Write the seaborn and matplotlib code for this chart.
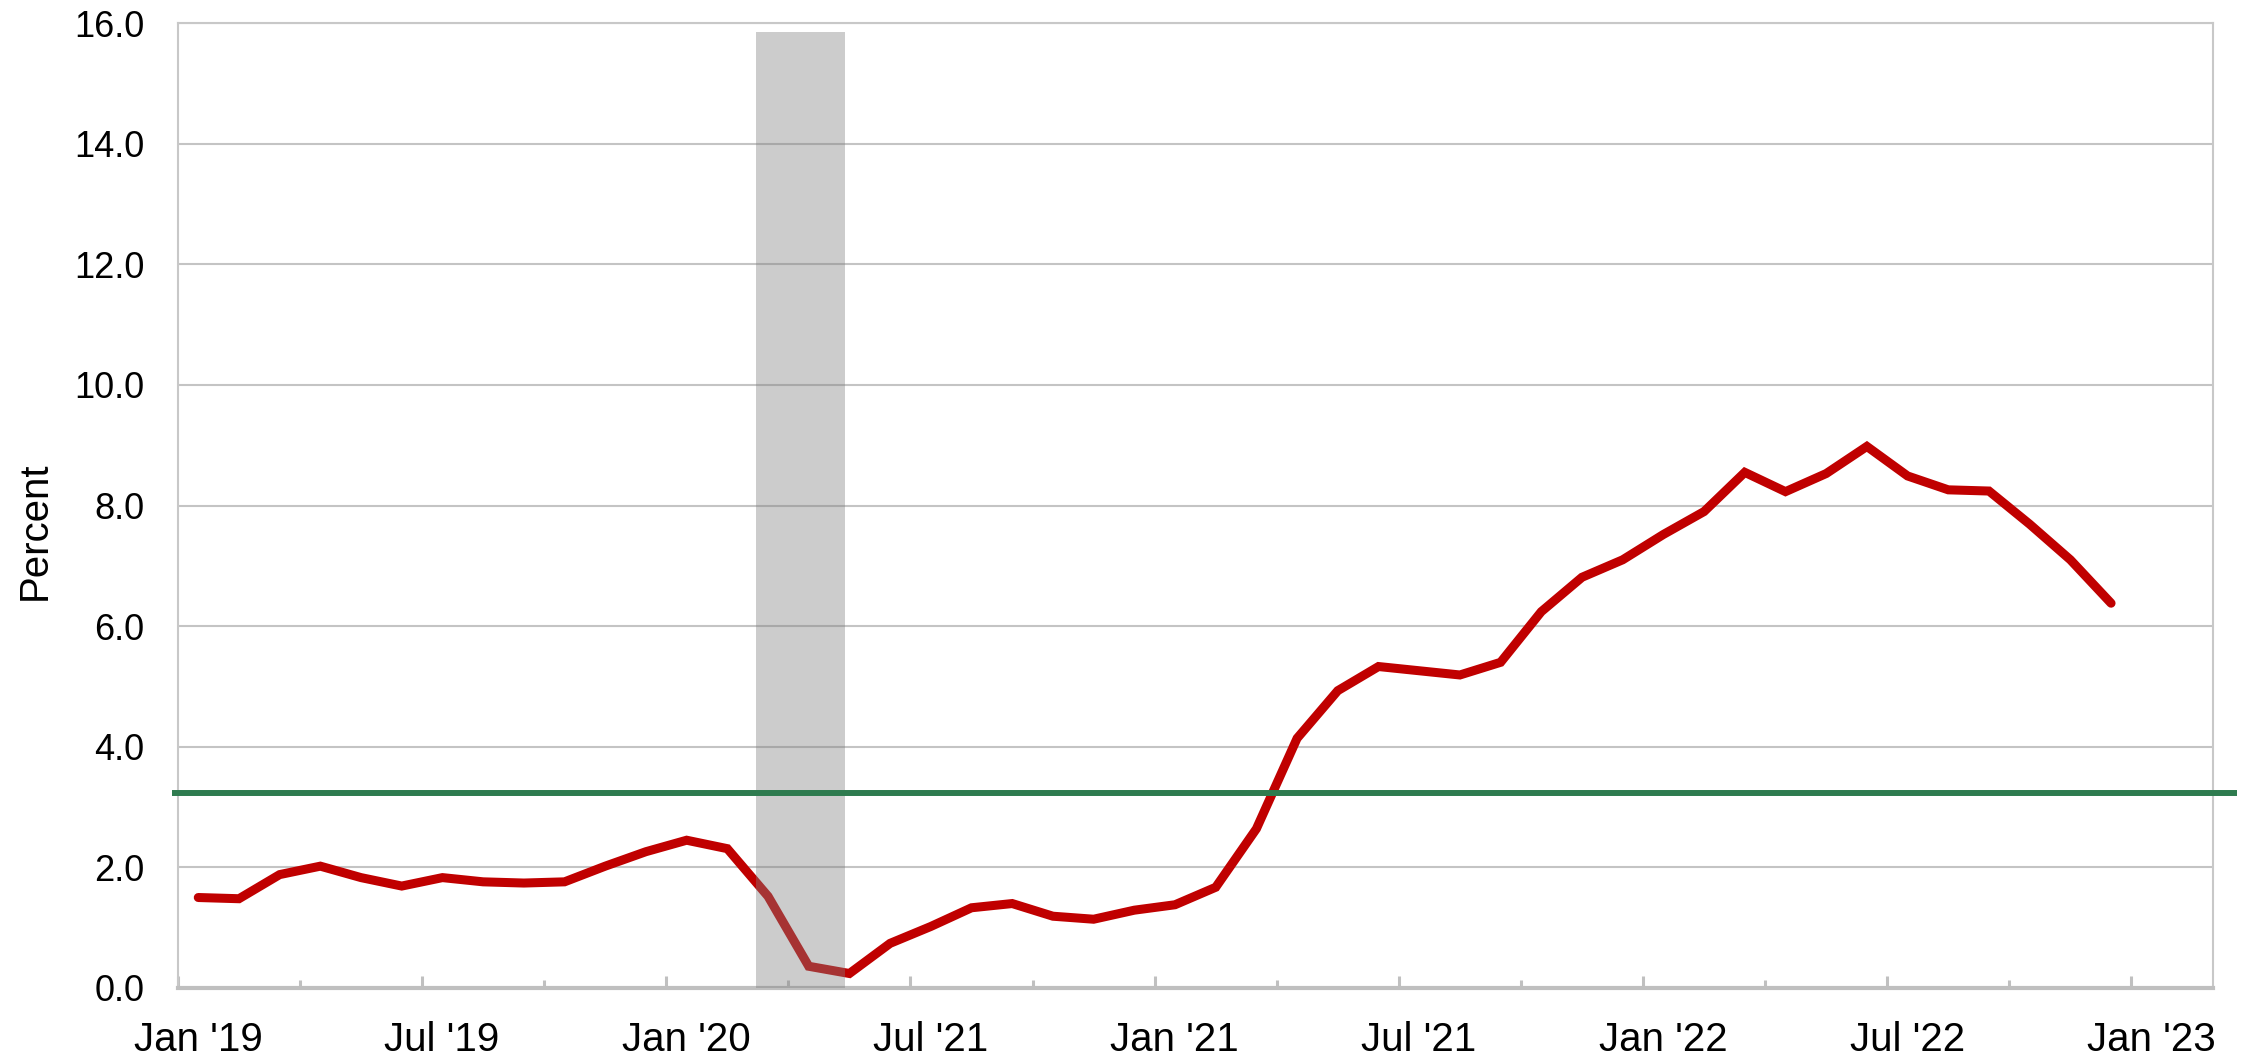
import numpy as np
import pandas as pd
import seaborn as sns
import matplotlib.pyplot as plt
from matplotlib.transforms import ScaledTranslation

# monthly values, Jan 2019 - Dec 2022
inflation = [1.50, 1.48, 1.88, 2.02, 1.83, 1.69, 1.83, 1.76, 1.74, 1.76, 2.02, 2.26,
             2.45, 2.31, 1.52, 0.36, 0.24, 0.74, 1.02, 1.33, 1.40, 1.19, 1.14, 1.29,
             1.38, 1.67, 2.64, 4.14, 4.93, 5.33, 5.26, 5.19, 5.40, 6.24, 6.81, 7.10,
             7.52, 7.90, 8.55, 8.23, 8.53, 8.98, 8.49, 8.26, 8.24, 7.69, 7.10, 6.38]
target_level = 3.24
tick_labels = ["Jan '19", "Jul '19", "Jan '20", "Jul '21", "Jan '21",
               "Jul '21", "Jan '22", "Jul '22", "Jan '23"]
y_ticks = [0, 2, 4, 6, 8, 10, 12, 14, 16]
shade_start, shade_end, shade_top = 14.2, 16.4, 15.85

df = pd.DataFrame({"month": np.arange(len(inflation)) + 0.5, "pct": inflation})

sns.set_theme(style="white")
plt.rcParams["font.family"] = ["Liberation Sans", "DejaVu Sans"]

fig, ax = plt.subplots(figsize=(22.52, 10.62), dpi=100)
fig.subplots_adjust(left=0.079, right=0.9826, top=0.9783, bottom=0.0697)

sns.lineplot(data=df, x="month", y="pct", color="#C00000", linewidth=6.5,
             ax=ax, zorder=3, solid_capstyle="round", solid_joinstyle="miter")
ax.axvspan(shade_start, shade_end, ymin=0, ymax=shade_top / 16,
           color="#808080", alpha=0.4, lw=0, zorder=4)
ax.plot([-0.15, 50.6], [target_level, target_level], color="#2E7B4F",
        lw=4.3, clip_on=False, zorder=5, solid_capstyle="butt")

ax.set_xlim(0, 50)
ax.set_ylim(0, 16)
ax.set_yticks(y_ticks)
ax.set_yticklabels([f"{v:.1f}" for v in y_ticks])
ax.set_xticks(np.arange(0, 49, 6))
ax.set_xticklabels(tick_labels)
ax.set_xticks(np.arange(3, 49, 6), minor=True)

ax.yaxis.grid(True, color="#c4c4c4", lw=1.5)
ax.set_axisbelow(True)

ax.tick_params(axis="x", which="major", direction="in", length=8.7, width=2.2,
               color="#c0c0c0", pad=24, labelsize=29, labelcolor="black", bottom=True)
ax.tick_params(axis="x", which="minor", direction="in", length=6, width=2.2,
               color="#c0c0c0", bottom=True)
ax.tick_params(axis="y", length=0, pad=24, labelsize=26, labelcolor="black")

# labels sit a little right of their ticks
shift = ScaledTranslation(0.2, 0, fig.dpi_scale_trans)
for lbl in ax.get_xticklabels():
    lbl.set_transform(lbl.get_transform() + shift)

for side in ["left", "right", "top"]:
    ax.spines[side].set_color("#c8c8c8")
    ax.spines[side].set_linewidth(1.5)
ax.spines["bottom"].set_color("#bfbfbf")
ax.spines["bottom"].set_linewidth(3)

ax.set_xlabel("")
ax.set_ylabel("Percent", fontsize=29, color="black")
ax.yaxis.set_label_coords(-0.061, 0.474)

fig.savefig("out.png", dpi=100, facecolor="white")
